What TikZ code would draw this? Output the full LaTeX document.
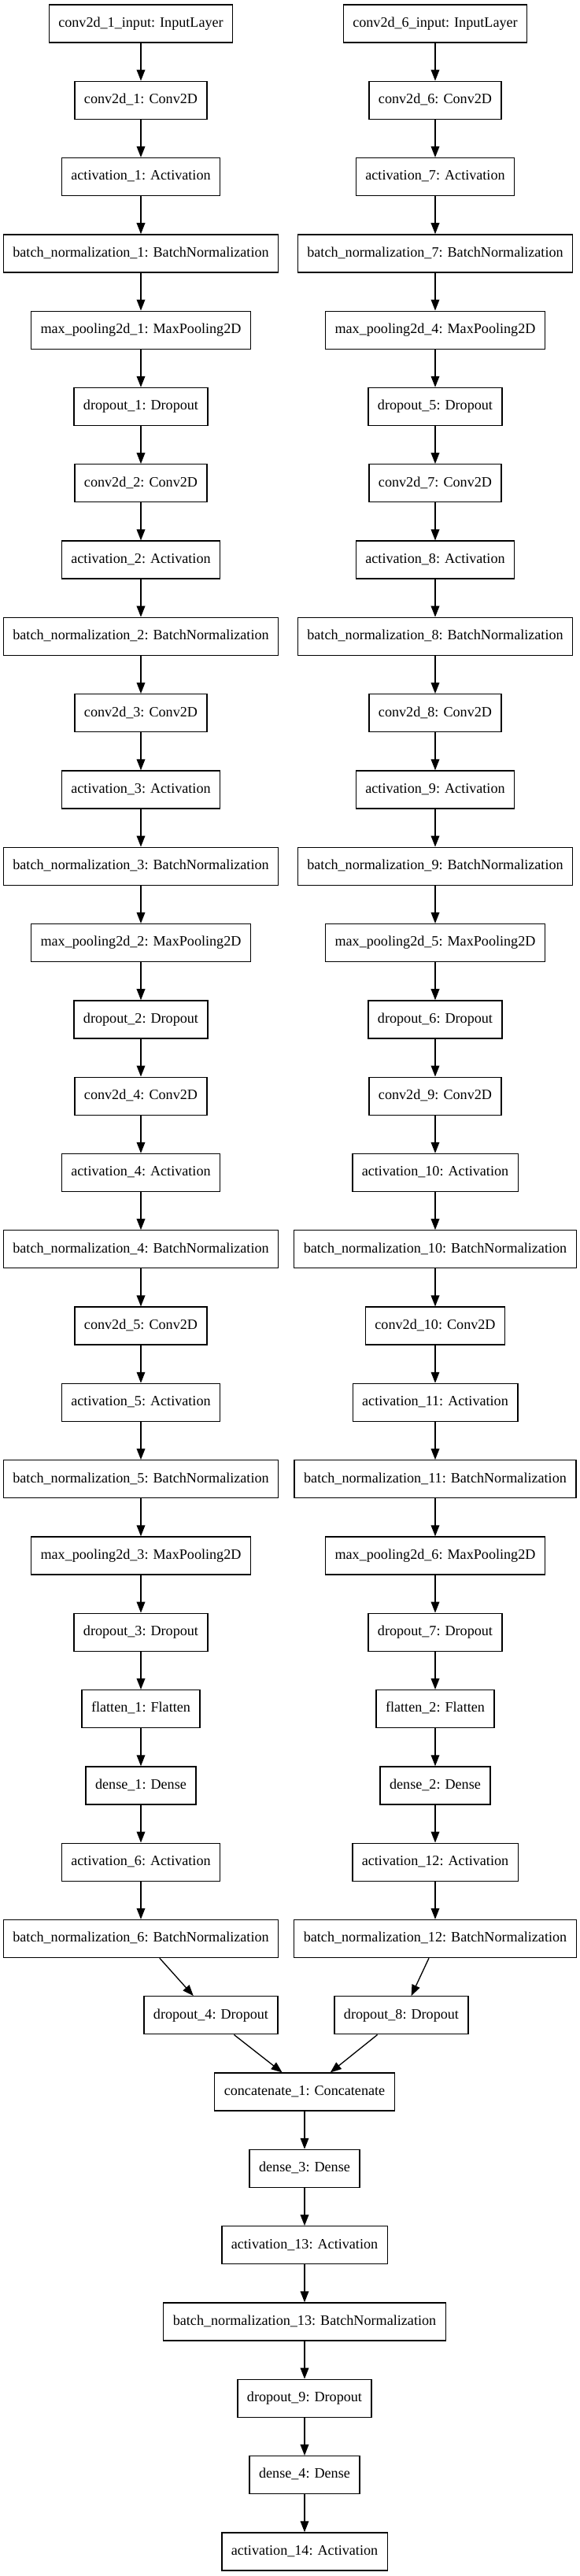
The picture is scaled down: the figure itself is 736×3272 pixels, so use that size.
\documentclass[tikz,border=0pt]{standalone}
\usepackage{fontspec}
\setmainfont{Liberation Serif}
\usepackage{tikz}
\usetikzlibrary{arrows.meta}

\begin{document}
\begin{tikzpicture}[x=0.75pt,y=-0.75pt,
>={Triangle[length=10.5pt,width=8pt]}]
     \tikzstyle{layer}=[draw,rectangle,line width=1pt,minimum height=36pt,
        inner xsep=9pt,inner ysep=0pt,text height=9.5pt,text depth=3pt,
        font=\fontsize{13.6}{16}\selectfont]
     \tikzstyle{edge} = [draw,->,line width=1pt,black]
     \path[use as bounding box,fill=white] (0,0) rectangle (736,3272);

     % left branch
     \node[layer] (in1) at (179,30) {conv2d\_1\_input: InputLayer};
     \node[layer] (cv1) at (179,127.3) {conv2d\_1: Conv2D};
     \node[layer] (ac1) at (179,224.6) {activation\_1: Activation};
     \node[layer] (bn1) at (179,321.9) {batch\_normalization\_1: BatchNormalization};
     \node[layer] (mp1) at (179,419.2) {max\_pooling2d\_1: MaxPooling2D};
     \node[layer] (do1) at (179,516.5) {dropout\_1: Dropout};
     \node[layer] (cv2) at (179,613.8) {conv2d\_2: Conv2D};
     \node[layer] (ac2) at (179,711.1) {activation\_2: Activation};
     \node[layer] (bn2) at (179,808.4) {batch\_normalization\_2: BatchNormalization};
     \node[layer] (cv3) at (179,905.7) {conv2d\_3: Conv2D};
     \node[layer] (ac3) at (179,1003) {activation\_3: Activation};
     \node[layer] (bn3) at (179,1100.3) {batch\_normalization\_3: BatchNormalization};
     \node[layer] (mp2) at (179,1197.6) {max\_pooling2d\_2: MaxPooling2D};
     \node[layer] (do2) at (179,1294.9) {dropout\_2: Dropout};
     \node[layer] (cv4) at (179,1392.2) {conv2d\_4: Conv2D};
     \node[layer] (ac4) at (179,1489.5) {activation\_4: Activation};
     \node[layer] (bn4) at (179,1586.8) {batch\_normalization\_4: BatchNormalization};
     \node[layer] (cv5) at (179,1684.1) {conv2d\_5: Conv2D};
     \node[layer] (ac5) at (179,1781.4) {activation\_5: Activation};
     \node[layer] (bn5) at (179,1878.7) {batch\_normalization\_5: BatchNormalization};
     \node[layer] (mp3) at (179,1976) {max\_pooling2d\_3: MaxPooling2D};
     \node[layer] (do3) at (179,2073.3) {dropout\_3: Dropout};
     \node[layer] (fl1) at (179,2170.6) {flatten\_1: Flatten};
     \node[layer] (de1) at (179,2267.9) {dense\_1: Dense};
     \node[layer] (ac6) at (179,2365.2) {activation\_6: Activation};
     \node[layer] (bn6) at (179,2462.5) {batch\_normalization\_6: BatchNormalization};
     \node[layer] (do4) at (268,2559.8) {dropout\_4: Dropout};

     % right branch
     \node[layer] (in6) at (553,30) {conv2d\_6\_input: InputLayer};
     \node[layer] (cv6) at (553,127.3) {conv2d\_6: Conv2D};
     \node[layer] (ac7) at (553,224.6) {activation\_7: Activation};
     \node[layer] (bn7) at (553,321.9) {batch\_normalization\_7: BatchNormalization};
     \node[layer] (mp4) at (553,419.2) {max\_pooling2d\_4: MaxPooling2D};
     \node[layer] (do5) at (553,516.5) {dropout\_5: Dropout};
     \node[layer] (cv7) at (553,613.8) {conv2d\_7: Conv2D};
     \node[layer] (ac8) at (553,711.1) {activation\_8: Activation};
     \node[layer] (bn8) at (553,808.4) {batch\_normalization\_8: BatchNormalization};
     \node[layer] (cv8) at (553,905.7) {conv2d\_8: Conv2D};
     \node[layer] (ac9) at (553,1003) {activation\_9: Activation};
     \node[layer] (bn9) at (553,1100.3) {batch\_normalization\_9: BatchNormalization};
     \node[layer] (mp5) at (553,1197.6) {max\_pooling2d\_5: MaxPooling2D};
     \node[layer] (do6) at (553,1294.9) {dropout\_6: Dropout};
     \node[layer] (cv9) at (553,1392.2) {conv2d\_9: Conv2D};
     \node[layer] (ac10) at (553,1489.5) {activation\_10: Activation};
     \node[layer] (bn10) at (553,1586.8) {batch\_normalization\_10: BatchNormalization};
     \node[layer] (cv10) at (553,1684.1) {conv2d\_10: Conv2D};
     \node[layer] (ac11) at (553,1781.4) {activation\_11: Activation};
     \node[layer] (bn11) at (553,1878.7) {batch\_normalization\_11: BatchNormalization};
     \node[layer] (mp6) at (553,1976) {max\_pooling2d\_6: MaxPooling2D};
     \node[layer] (do7) at (553,2073.3) {dropout\_7: Dropout};
     \node[layer] (fl2) at (553,2170.6) {flatten\_2: Flatten};
     \node[layer] (de2) at (553,2267.9) {dense\_2: Dense};
     \node[layer] (ac12) at (553,2365.2) {activation\_12: Activation};
     \node[layer] (bn12) at (553,2462.5) {batch\_normalization\_12: BatchNormalization};
     \node[layer] (do8) at (510,2559.8) {dropout\_8: Dropout};

     % merged head
     \node[layer] (cc1) at (387,2657.1) {concatenate\_1: Concatenate};
     \node[layer] (de3) at (387,2754.4) {dense\_3: Dense};
     \node[layer] (ac13) at (387,2851.7) {activation\_13: Activation};
     \node[layer] (bn13) at (387,2949) {batch\_normalization\_13: BatchNormalization};
     \node[layer] (do9) at (387,3046.3) {dropout\_9: Dropout};
     \node[layer] (de4) at (387,3143.6) {dense\_4: Dense};
     \node[layer] (ac14) at (387,3240.9) {activation\_14: Activation};

     \draw[edge] (in1) -- (cv1);
     \draw[edge] (cv1) -- (ac1);
     \draw[edge] (ac1) -- (bn1);
     \draw[edge] (bn1) -- (mp1);
     \draw[edge] (mp1) -- (do1);
     \draw[edge] (do1) -- (cv2);
     \draw[edge] (cv2) -- (ac2);
     \draw[edge] (ac2) -- (bn2);
     \draw[edge] (bn2) -- (cv3);
     \draw[edge] (cv3) -- (ac3);
     \draw[edge] (ac3) -- (bn3);
     \draw[edge] (bn3) -- (mp2);
     \draw[edge] (mp2) -- (do2);
     \draw[edge] (do2) -- (cv4);
     \draw[edge] (cv4) -- (ac4);
     \draw[edge] (ac4) -- (bn4);
     \draw[edge] (bn4) -- (cv5);
     \draw[edge] (cv5) -- (ac5);
     \draw[edge] (ac5) -- (bn5);
     \draw[edge] (bn5) -- (mp3);
     \draw[edge] (mp3) -- (do3);
     \draw[edge] (do3) -- (fl1);
     \draw[edge] (fl1) -- (de1);
     \draw[edge] (de1) -- (ac6);
     \draw[edge] (ac6) -- (bn6);
     \draw[edge] (bn6.-46) -- (do4.132);

     \draw[edge] (in6) -- (cv6);
     \draw[edge] (cv6) -- (ac7);
     \draw[edge] (ac7) -- (bn7);
     \draw[edge] (bn7) -- (mp4);
     \draw[edge] (mp4) -- (do5);
     \draw[edge] (do5) -- (cv7);
     \draw[edge] (cv7) -- (ac8);
     \draw[edge] (ac8) -- (bn8);
     \draw[edge] (bn8) -- (cv8);
     \draw[edge] (cv8) -- (ac9);
     \draw[edge] (ac9) -- (bn9);
     \draw[edge] (bn9) -- (mp5);
     \draw[edge] (mp5) -- (do6);
     \draw[edge] (do6) -- (cv9);
     \draw[edge] (cv9) -- (ac10);
     \draw[edge] (ac10) -- (bn10);
     \draw[edge] (bn10) -- (cv10);
     \draw[edge] (cv10) -- (ac11);
     \draw[edge] (ac11) -- (bn11);
     \draw[edge] (bn11) -- (mp6);
     \draw[edge] (mp6) -- (do7);
     \draw[edge] (do7) -- (fl2);
     \draw[edge] (fl2) -- (de2);
     \draw[edge] (de2) -- (ac12);
     \draw[edge] (ac12) -- (bn12);
     \draw[edge] (bn12.-108) -- (do8.63);

     \draw[edge] (do4.-40) -- (cc1.139);
     \draw[edge] (do8.-141) -- (cc1.37);
     \draw[edge] (cc1) -- (de3);
     \draw[edge] (de3) -- (ac13);
     \draw[edge] (ac13) -- (bn13);
     \draw[edge] (bn13) -- (do9);
     \draw[edge] (do9) -- (de4);
     \draw[edge] (de4) -- (ac14);
 \end{tikzpicture}
\end{document}
